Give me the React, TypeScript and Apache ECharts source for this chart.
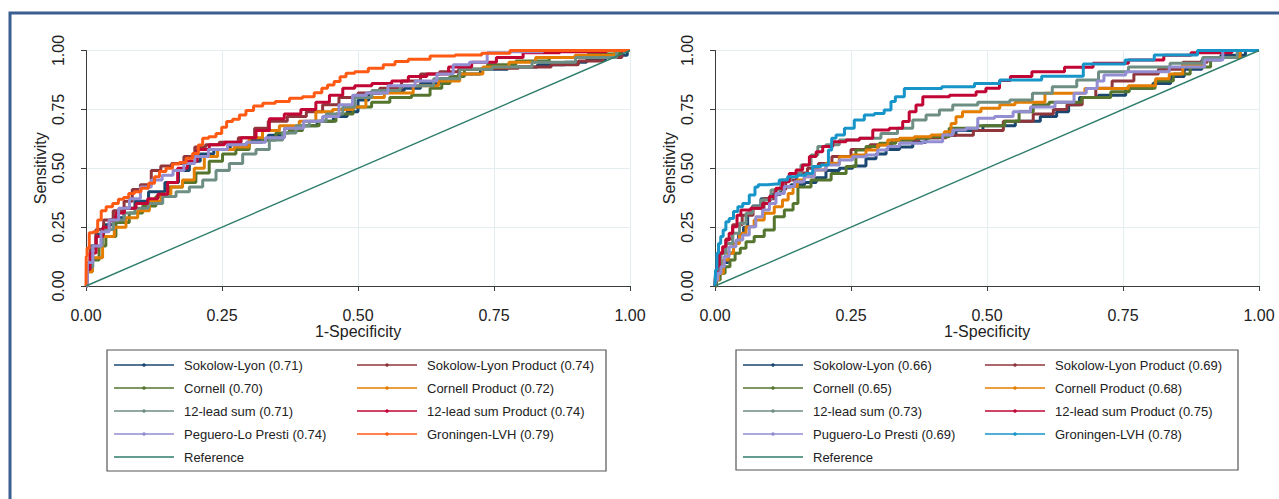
import React, { useEffect, useRef } from 'react';
import * as echarts from 'echarts';

type Pt = [number, number];

// ---------- tick labels ----------
const tickValues = [0, 0.25, 0.5, 0.75, 1];
const tickLabels = ['0.00', '0.25', '0.50', '0.75', '1.00'];

// ---------- legend labels (Stata order) ----------
const leftNames = [
  'Sokolow-Lyon (0.71)', 'Sokolow-Lyon Product (0.74)',
  'Cornell (0.70)', 'Cornell Product (0.72)',
  '12-lead sum (0.71)', '12-lead sum Product (0.74)',
  'Peguero-Lo Presti (0.74)', 'Groningen-LVH (0.79)',
];
const rightNames = [
  'Sokolow-Lyon (0.66)', 'Sokolow-Lyon Product (0.69)',
  'Cornell (0.65)', 'Cornell Product (0.68)',
  '12-lead sum (0.73)', '12-lead sum Product (0.75)',
  'Puguero-Lo Presti (0.69)', 'Groningen-LVH (0.78)',
];
const referenceName = 'Reference';

// ---------- left panel curves ----------
const L_sokolow: Pt[] = [[0,0],[0.004,0.1],[0.012,0.17],[0.025,0.22],[0.04,0.26],[0.06,0.29],[0.08,0.33],[0.1,0.36],[0.13,0.4],[0.16,0.44],[0.18,0.49],[0.2,0.53],[0.22,0.56],[0.25,0.58],[0.28,0.6],[0.32,0.62],[0.35,0.64],[0.38,0.67],[0.41,0.68],[0.44,0.7],[0.47,0.72],[0.49,0.74],[0.51,0.79],[0.53,0.82],[0.57,0.83],[0.6,0.84],[0.63,0.86],[0.67,0.88],[0.7,0.9],[0.75,0.92],[0.8,0.93],[0.86,0.94],[0.9,0.95],[0.94,0.96],[0.97,0.97],[0.99,0.98],[1,1]];
const L_sokolowProd: Pt[] = [[0,0],[0.004,0.08],[0.012,0.16],[0.025,0.24],[0.04,0.28],[0.06,0.32],[0.08,0.36],[0.09,0.41],[0.11,0.43],[0.13,0.49],[0.145,0.51],[0.17,0.52],[0.19,0.55],[0.21,0.59],[0.23,0.6],[0.26,0.61],[0.3,0.63],[0.32,0.67],[0.35,0.7],[0.39,0.72],[0.42,0.74],[0.45,0.77],[0.48,0.8],[0.52,0.82],[0.56,0.84],[0.6,0.87],[0.63,0.9],[0.67,0.91],[0.7,0.92],[0.76,0.925],[0.83,0.93],[0.88,0.94],[0.93,0.955],[0.97,0.97],[1,1]];
const L_cornell: Pt[] = [[0,0],[0.005,0.06],[0.018,0.11],[0.03,0.17],[0.043,0.21],[0.067,0.27],[0.092,0.31],[0.116,0.34],[0.141,0.38],[0.165,0.42],[0.19,0.44],[0.214,0.48],[0.239,0.53],[0.263,0.56],[0.288,0.58],[0.312,0.61],[0.337,0.62],[0.361,0.65],[0.386,0.66],[0.41,0.68],[0.447,0.7],[0.472,0.73],[0.51,0.76],[0.54,0.78],[0.577,0.8],[0.62,0.81],[0.645,0.84],[0.663,0.86],[0.675,0.89],[0.716,0.92],[0.76,0.94],[0.82,0.955],[0.883,0.97],[0.963,0.985],[1,1]];
const L_cornellProd: Pt[] = [[0,0],[0.005,0.06],[0.018,0.12],[0.043,0.21],[0.061,0.25],[0.086,0.29],[0.104,0.32],[0.129,0.36],[0.147,0.39],[0.165,0.42],[0.19,0.45],[0.208,0.5],[0.227,0.55],[0.257,0.58],[0.288,0.59],[0.312,0.63],[0.337,0.66],[0.374,0.68],[0.41,0.7],[0.435,0.74],[0.472,0.75],[0.509,0.76],[0.52,0.8],[0.577,0.82],[0.626,0.85],[0.67,0.87],[0.704,0.9],[0.755,0.93],[0.8,0.95],[0.853,0.97],[0.945,0.98],[1,1]];
const L_lead12: Pt[] = [[0,0],[0.005,0.08],[0.02,0.17],[0.04,0.24],[0.06,0.28],[0.08,0.31],[0.1,0.33],[0.129,0.35],[0.153,0.38],[0.178,0.4],[0.202,0.42],[0.227,0.45],[0.251,0.49],[0.276,0.52],[0.3,0.56],[0.325,0.58],[0.349,0.62],[0.374,0.65],[0.398,0.68],[0.423,0.7],[0.46,0.73],[0.484,0.76],[0.504,0.8],[0.547,0.83],[0.608,0.85],[0.67,0.88],[0.704,0.92],[0.79,0.93],[0.85,0.95],[0.95,0.97],[1,1]];
const L_lead12Prod: Pt[] = [[0,0],[0.003,0.07],[0.012,0.14],[0.025,0.21],[0.037,0.25],[0.049,0.28],[0.061,0.31],[0.08,0.33],[0.104,0.35],[0.123,0.37],[0.141,0.39],[0.159,0.44],[0.178,0.5],[0.195,0.53],[0.214,0.58],[0.239,0.6],[0.27,0.61],[0.3,0.63],[0.325,0.66],[0.349,0.71],[0.38,0.73],[0.41,0.75],[0.435,0.78],[0.46,0.81],[0.484,0.84],[0.504,0.85],[0.547,0.86],[0.577,0.87],[0.608,0.89],[0.645,0.9],[0.688,0.93],[0.73,0.95],[0.779,0.97],[0.828,0.99],[0.914,0.995],[1,1]];
const L_peguero: Pt[] = [[0,0],[0.005,0.1],[0.02,0.17],[0.035,0.23],[0.05,0.28],[0.07,0.33],[0.09,0.37],[0.11,0.42],[0.13,0.45],[0.15,0.47],[0.17,0.49],[0.19,0.52],[0.21,0.55],[0.24,0.58],[0.28,0.6],[0.31,0.61],[0.35,0.63],[0.38,0.67],[0.42,0.7],[0.45,0.72],[0.48,0.77],[0.5,0.81],[0.53,0.82],[0.58,0.85],[0.63,0.87],[0.66,0.9],[0.69,0.94],[0.72,0.95],[0.755,0.99],[0.8,0.995],[0.88,1],[1,1]];
const L_groningen: Pt[] = [[0,0],[0.001,0.125],[0.003,0.16],[0.009,0.226],[0.018,0.23],[0.025,0.28],[0.031,0.32],[0.043,0.337],[0.055,0.35],[0.064,0.368],[0.074,0.376],[0.083,0.393],[0.095,0.4],[0.107,0.415],[0.123,0.436],[0.129,0.464],[0.141,0.486],[0.153,0.5],[0.165,0.518],[0.178,0.524],[0.19,0.542],[0.202,0.563],[0.211,0.599],[0.218,0.627],[0.233,0.634],[0.245,0.648],[0.254,0.674],[0.263,0.698],[0.276,0.708],[0.288,0.726],[0.3,0.745],[0.316,0.764],[0.334,0.776],[0.362,0.783],[0.386,0.797],[0.41,0.804],[0.429,0.821],[0.438,0.84],[0.45,0.853],[0.462,0.868],[0.472,0.889],[0.484,0.903],[0.504,0.91],[0.534,0.925],[0.559,0.939],[0.577,0.953],[0.608,0.963],[0.657,0.977],[0.7,0.981],[0.755,0.988],[0.804,1],[1,1]];

// ---------- right panel curves ----------
const R_sokolow: Pt[] = [[0,0],[0.002,0.04],[0.011,0.07],[0.02,0.1],[0.029,0.14],[0.039,0.18],[0.048,0.22],[0.057,0.25],[0.063,0.31],[0.075,0.34],[0.094,0.37],[0.112,0.39],[0.13,0.42],[0.149,0.43],[0.18,0.44],[0.192,0.46],[0.216,0.49],[0.241,0.5],[0.265,0.51],[0.29,0.54],[0.302,0.56],[0.327,0.58],[0.351,0.59],[0.376,0.61],[0.4,0.63],[0.425,0.64],[0.461,0.66],[0.524,0.68],[0.58,0.7],[0.616,0.72],[0.64,0.74],[0.66,0.77],[0.68,0.8],[0.73,0.81],[0.78,0.84],[0.83,0.86],[0.845,0.89],[0.88,0.92],[0.91,0.96],[0.95,0.98],[1,1]];
const R_sokolowProd: Pt[] = [[0,0],[0.005,0.07],[0.015,0.14],[0.025,0.2],[0.04,0.26],[0.06,0.3],[0.08,0.33],[0.1,0.37],[0.12,0.41],[0.14,0.45],[0.16,0.48],[0.18,0.5],[0.2,0.52],[0.23,0.55],[0.27,0.58],[0.3,0.6],[0.35,0.62],[0.4,0.63],[0.45,0.64],[0.5,0.66],[0.56,0.7],[0.61,0.73],[0.634,0.75],[0.66,0.77],[0.69,0.8],[0.71,0.84],[0.75,0.87],[0.79,0.9],[0.84,0.92],[0.88,0.95],[0.93,0.97],[1,1]];
const R_cornell: Pt[] = [[0,0],[0.005,0.025],[0.014,0.054],[0.023,0.082],[0.032,0.11],[0.042,0.139],[0.051,0.16],[0.063,0.188],[0.081,0.21],[0.1,0.238],[0.118,0.294],[0.137,0.323],[0.15,0.35],[0.155,0.42],[0.198,0.45],[0.229,0.478],[0.253,0.507],[0.265,0.578],[0.29,0.592],[0.314,0.606],[0.351,0.62],[0.376,0.627],[0.412,0.634],[0.449,0.67],[0.517,0.68],[0.548,0.7],[0.57,0.74],[0.6,0.77],[0.628,0.78],[0.72,0.8],[0.735,0.825],[0.788,0.84],[0.83,0.87],[0.855,0.9],[0.892,0.93],[0.93,0.97],[1,1]];
const R_cornellProd: Pt[] = [[0,0],[0.002,0.025],[0.011,0.054],[0.02,0.11],[0.029,0.139],[0.039,0.18],[0.051,0.224],[0.063,0.252],[0.081,0.28],[0.1,0.309],[0.118,0.337],[0.13,0.365],[0.139,0.393],[0.148,0.422],[0.155,0.45],[0.173,0.464],[0.192,0.493],[0.216,0.521],[0.241,0.549],[0.265,0.556],[0.29,0.578],[0.308,0.599],[0.327,0.62],[0.351,0.627],[0.382,0.634],[0.412,0.641],[0.431,0.655],[0.437,0.69],[0.449,0.719],[0.461,0.74],[0.517,0.755],[0.53,0.77],[0.573,0.78],[0.64,0.818],[0.72,0.839],[0.8,0.85],[0.82,0.88],[0.85,0.9],[0.87,0.938],[0.93,0.97],[1,1]];
const R_lead12: Pt[] = [[0,0],[0.002,0.04],[0.008,0.082],[0.014,0.139],[0.026,0.18],[0.039,0.224],[0.051,0.266],[0.063,0.309],[0.075,0.337],[0.094,0.365],[0.112,0.408],[0.13,0.45],[0.149,0.478],[0.167,0.514],[0.186,0.556],[0.192,0.592],[0.216,0.6],[0.241,0.62],[0.29,0.627],[0.32,0.648],[0.351,0.67],[0.376,0.705],[0.4,0.726],[0.425,0.747],[0.449,0.769],[0.517,0.78],[0.567,0.79],[0.6,0.818],[0.64,0.846],[0.69,0.875],[0.72,0.91],[0.8,0.93],[0.873,0.946],[0.92,0.97],[1,1]];
const R_lead12Prod: Pt[] = [[0,0],[0.002,0.054],[0.005,0.082],[0.011,0.139],[0.017,0.167],[0.023,0.195],[0.029,0.224],[0.036,0.252],[0.045,0.3],[0.05,0.323],[0.081,0.33],[0.094,0.35],[0.106,0.38],[0.118,0.415],[0.13,0.443],[0.143,0.478],[0.155,0.493],[0.167,0.514],[0.18,0.55],[0.192,0.57],[0.204,0.592],[0.229,0.613],[0.253,0.62],[0.278,0.627],[0.302,0.662],[0.339,0.67],[0.351,0.698],[0.363,0.74],[0.376,0.769],[0.388,0.804],[0.474,0.81],[0.486,0.825],[0.51,0.84],[0.536,0.873],[0.55,0.89],[0.615,0.91],[0.67,0.929],[0.72,0.946],[0.8,0.96],[0.85,0.98],[0.9,0.99],[1,1]];
const R_puguero: Pt[] = [[0,0],[0.002,0.025],[0.008,0.054],[0.014,0.082],[0.02,0.125],[0.032,0.167],[0.045,0.195],[0.057,0.217],[0.069,0.252],[0.081,0.294],[0.094,0.323],[0.106,0.35],[0.118,0.393],[0.137,0.422],[0.155,0.443],[0.173,0.464],[0.192,0.493],[0.216,0.514],[0.241,0.535],[0.265,0.549],[0.29,0.556],[0.308,0.578],[0.327,0.592],[0.351,0.606],[0.412,0.613],[0.425,0.641],[0.449,0.662],[0.474,0.67],[0.492,0.712],[0.536,0.72],[0.56,0.74],[0.6,0.76],[0.65,0.78],[0.67,0.818],[0.695,0.839],[0.71,0.87],[0.72,0.896],[0.79,0.91],[0.88,0.93],[0.92,0.96],[0.947,1],[1,1]];
const R_groningen: Pt[] = [[0,0],[0.002,0.068],[0.005,0.139],[0.008,0.18],[0.013,0.21],[0.017,0.238],[0.023,0.273],[0.029,0.287],[0.039,0.316],[0.045,0.337],[0.057,0.35],[0.069,0.386],[0.078,0.42],[0.081,0.43],[0.112,0.433],[0.124,0.45],[0.143,0.464],[0.161,0.47],[0.173,0.478],[0.186,0.507],[0.204,0.514],[0.213,0.578],[0.216,0.627],[0.229,0.641],[0.247,0.67],[0.265,0.705],[0.284,0.726],[0.302,0.733],[0.32,0.747],[0.327,0.783],[0.336,0.804],[0.36,0.839],[0.474,0.846],[0.48,0.86],[0.567,0.875],[0.634,0.891],[0.72,0.943],[0.788,0.96],[0.827,0.981],[0.947,1],[1,1]];

const referenceLine: Pt[] = [[0,0],[1,1]];

const leftCurves = [L_sokolow, L_sokolowProd, L_cornell, L_cornellProd, L_lead12, L_lead12Prod, L_peguero, L_groningen];
const rightCurves = [R_sokolow, R_sokolowProd, R_cornell, R_cornellProd, R_lead12, R_lead12Prod, R_puguero, R_groningen];

// ---------- colours ----------
const leftColors = ['#1a476f', '#90353b', '#55752f', '#e37e00', '#6e8e84', '#c10534', '#938dd2', '#ff5a14'];
const rightColors = ['#1a476f', '#90353b', '#55752f', '#e37e00', '#6e8e84', '#c10534', '#938dd2', '#1795c9'];
const referenceColor = '#2f7d6b';

const FONT = '"Liberation Sans", Arial, sans-serif';

const GRID_TOP = 50.5;
const GRID_H = 235.5;
const GRID_W = 544;
const LEFT_X0 = 86;
const RIGHT_X0 = 715;

function makeAxes(gridIndex: number) {
  const common = {
    gridIndex,
    type: 'value' as const,
    min: 0,
    max: 1,
    interval: 0.25,
    offset: 10,
    axisLine: { show: true, lineStyle: { color: '#3a3a3a', width: 1 } },
    axisTick: { show: true, length: 5, lineStyle: { color: '#3a3a3a' } },
    splitLine: { show: true, lineStyle: { color: '#e4edef', width: 1 } },
    nameLocation: 'middle' as const,
    nameTextStyle: { fontSize: 16, color: '#222', fontFamily: FONT },
  };
  const fmt = (v: number) => {
    const i = tickValues.findIndex((t) => Math.abs(t - v) < 1e-6);
    return i >= 0 ? tickLabels[i] : '';
  };
  const x = {
    ...common,
    name: '1-Specificity',
    nameGap: 27,
    axisLabel: { formatter: fmt, fontSize: 16, color: '#222', margin: 11, fontFamily: FONT },
  };
  const y = {
    ...common,
    name: 'Sensitivity',
    nameGap: 28,
    axisLabel: { formatter: fmt, fontSize: 16, color: '#222', margin: 10, rotate: 90, fontFamily: FONT },
  };
  return { x, y };
}

function legendGraphics(names: string[], colors: string[], box: { x: number; y: number; w: number; h: number }, col1: number, col2: number) {
  const els: any[] = [];
  els.push({
    type: 'rect',
    shape: { x: box.x, y: box.y, width: box.w, height: box.h },
    style: { fill: '#fff', stroke: '#555', lineWidth: 1.2 },
  });
  const rows = [365, 388, 411, 434, 457];
  const items = names.map((n, i) => ({ name: n, color: colors[i], row: Math.floor(i / 2), col: i % 2, dot: true }));
  items.push({ name: referenceName, color: referenceColor, row: 4, col: 0, dot: false });
  items.forEach((it) => {
    const lx = it.col === 0 ? col1 : col2;
    const y = rows[it.row];
    els.push({ type: 'line', shape: { x1: lx, y1: y, x2: lx + 60, y2: y }, style: { stroke: it.color, lineWidth: 1.6 } });
    if (it.dot) {
      els.push({ type: 'circle', shape: { cx: lx + 30, cy: y, r: 1.8 }, style: { fill: it.color } });
    }
    els.push({
      type: 'text',
      x: lx + 70,
      y,
      style: { text: it.name, fill: '#222', fontSize: 13, fontFamily: FONT, verticalAlign: 'middle', align: 'left' },
    });
  });
  return els;
}

export default function App() {
  const ref = useRef<HTMLDivElement>(null);
  useEffect(() => {
    if (!ref.current) return;
    const chart = echarts.init(ref.current, undefined, { renderer: 'svg' });
    const a0 = makeAxes(0);
    const a1 = makeAxes(1);
    const curveSeries = (curves: Pt[][], names: string[], colors: string[], idx: number) =>
      curves.map((d, i) => ({
        type: 'line',
        name: names[i],
        xAxisIndex: idx,
        yAxisIndex: idx,
        data: d,
        step: 'middle',
        showSymbol: false,
        symbol: 'none',
        clip: false,
        lineStyle: { color: colors[i], width: 3 },
        itemStyle: { color: colors[i] },
        z: 3 + i * 0.01,
      }));
    const refSeries = (idx: number) => ({
      type: 'line',
      name: referenceName,
      xAxisIndex: idx,
      yAxisIndex: idx,
      data: referenceLine,
      showSymbol: false,
      symbol: 'none',
      clip: false,
      lineStyle: { color: referenceColor, width: 1.4 },
      z: 4,
    });
    chart.setOption({
      animation: false,
      backgroundColor: '#ffffff',
      textStyle: { fontFamily: FONT },
      grid: [
        { left: LEFT_X0, top: GRID_TOP, width: GRID_W, height: GRID_H },
        { left: RIGHT_X0, top: GRID_TOP, width: GRID_W, height: GRID_H },
      ],
      xAxis: [a0.x, a1.x],
      yAxis: [a0.y, a1.y],
      series: [
        ...curveSeries(leftCurves, leftNames, leftColors, 0),
        refSeries(0),
        ...curveSeries(rightCurves, rightNames, rightColors, 1),
        refSeries(1),
      ],
      graphic: [
        {
          type: 'rect',
          shape: { x: 10, y: 13, width: 1300, height: 500 },
          style: { fill: 'none', stroke: '#3b5f90', lineWidth: 3 },
          silent: true,
        },
        ...legendGraphics(leftNames, leftColors, { x: 107, y: 350, w: 499, h: 121 }, 114, 357),
        ...legendGraphics(rightNames, rightColors, { x: 736, y: 350, w: 502, h: 120 }, 743, 985),
      ],
    });
    return () => chart.dispose();
  }, []);
  return (
    <div
      ref={ref}
      style={{ position: 'fixed', left: 0, top: 0, width: 1279, height: 499 }}
    />
  );
}
